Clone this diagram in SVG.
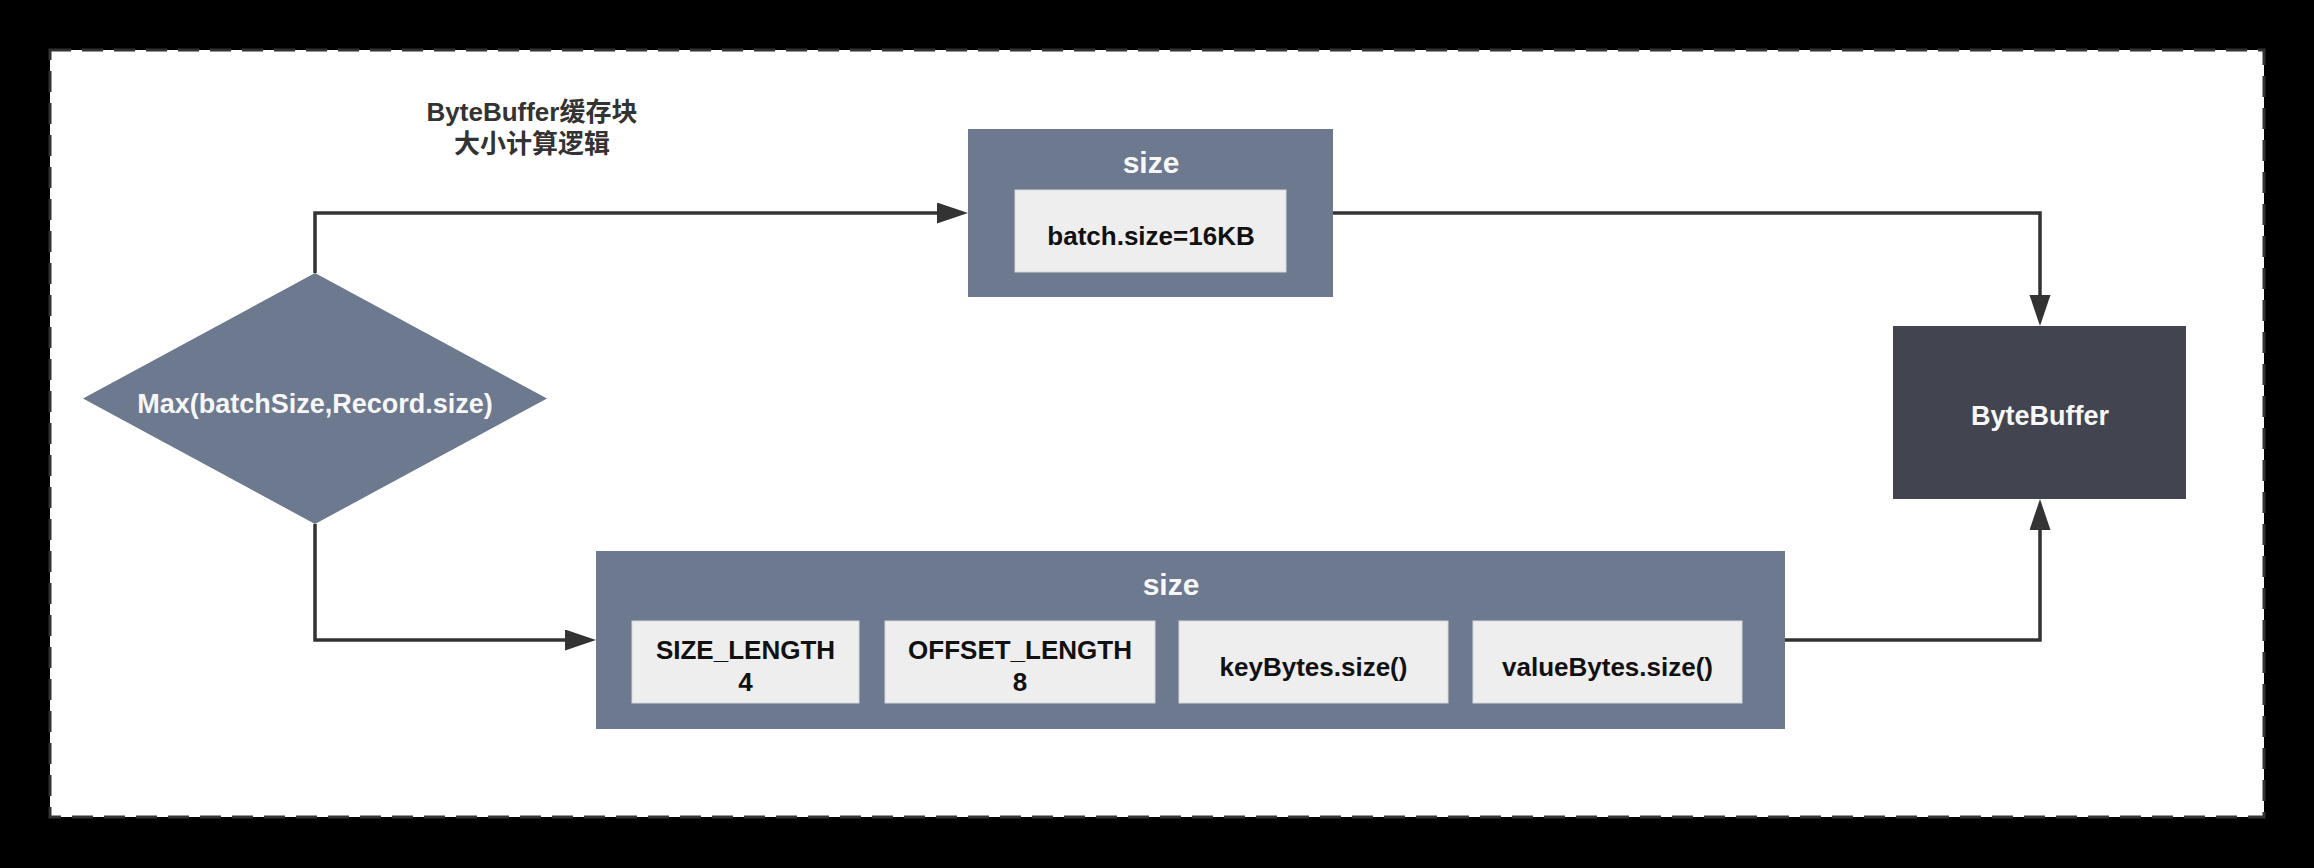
<svg xmlns="http://www.w3.org/2000/svg" width="2314" height="868" viewBox="0 0 2314 868">
<style>
text{font-family:"Liberation Sans","Noto Sans CJK SC",sans-serif;font-weight:bold;text-anchor:middle}
.slate{fill:#6C798F}
.inner{fill:#EEEEEE;stroke:#D4D8DE;stroke-width:1}
.dark{fill:#42454F}
.wt{fill:#F7F7F7}
.bt{fill:#111111;font-size:26px}
.conn{fill:none;stroke:#333333;stroke-width:3.5}
</style>
<defs>
<marker id="arr" markerUnits="userSpaceOnUse" markerWidth="32" markerHeight="22" refX="21" refY="10.5" orient="auto">
<path d="M0,0 L31,10.5 L0,21 z" fill="#333333"/>
</marker>
</defs>
<rect x="0" y="0" width="2314" height="868" fill="#000000"/>
<rect id="frame" x="50" y="50" width="2214" height="767" fill="#FFFFFF" stroke="#333333" stroke-width="3" stroke-dasharray="21 11"/>
<g id="title">
<text x="532" y="121" font-size="26" fill="#333333">ByteBuffer缓存块</text>
<text x="532" y="153" font-size="26" fill="#333333">大小计算逻辑</text>
</g>
<g id="connectors">
<path class="conn" d="M315,273 V213 H958" marker-end="url(#arr)"/>
<path class="conn" d="M1333,213 H2040 V316" marker-end="url(#arr)"/>
<path class="conn" d="M315,524 V640 H586" marker-end="url(#arr)"/>
<path class="conn" d="M1785,640 H2040 V509" marker-end="url(#arr)"/>
</g>
<g id="decision">
<polygon class="slate" points="315,273 547,398.5 315,524 83,398.5"/>
<text x="315" y="413" font-size="27" class="wt">Max(batchSize,Record.size)</text>
</g>
<g id="size-batch">
<rect class="slate" x="968" y="129" width="365" height="168"/>
<text x="1151" y="173" font-size="30" class="wt">size</text>
<rect class="inner" x="1015" y="190" width="271" height="82"/>
<text x="1151" y="245" class="bt">batch.size=16KB</text>
</g>
<g id="bytebuffer">
<rect class="dark" x="1893" y="326" width="293" height="173"/>
<text x="2040" y="425" font-size="27" class="wt">ByteBuffer</text>
</g>
<g id="size-record">
<rect class="slate" x="596" y="551" width="1189" height="178"/>
<text x="1171" y="595" font-size="30" class="wt">size</text>
<rect class="inner" x="632" y="621" width="227" height="82"/>
<text x="745.5" y="659" class="bt">SIZE_LENGTH</text>
<text x="745.5" y="691" class="bt">4</text>
<rect class="inner" x="885" y="621" width="270" height="82"/>
<text x="1020" y="659" class="bt">OFFSET_LENGTH</text>
<text x="1020" y="691" class="bt">8</text>
<rect class="inner" x="1179" y="621" width="269" height="82"/>
<text x="1313.5" y="676" class="bt">keyBytes.size()</text>
<rect class="inner" x="1473" y="621" width="269" height="82"/>
<text x="1607.5" y="676" class="bt">valueBytes.size()</text>
</g>
</svg>
